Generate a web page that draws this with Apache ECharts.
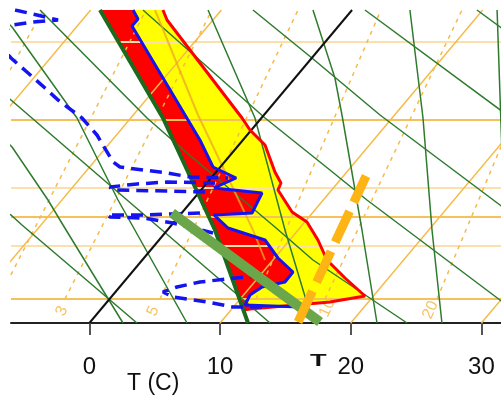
<!DOCTYPE html>
<html>
<head>
<meta charset="utf-8">
<script src="https://cdn.jsdelivr.net/npm/echarts@6/dist/echarts.min.js"></script>
<style>
html, body { margin: 0; padding: 0; background: #fff; }
#chart { width: 501px; height: 403px; }
</style>
</head>
<body>
<div id="chart"></div>
<script>
var chart = echarts.init(document.getElementById('chart'))

// x = temperature (C) at the bottom, y = height above the bottom isobar (plot units)
var tTicks = [0, 10, 20, 30]

var isobarLevels = [281, 203, 135, 106, 77, 24]
var isobarStrong = [false, true, false, true, false, true]

var isothermBottom = [-20, -10, 10, 20, 30]
var isothermTop = [0.1, 10.1, 30.1, 40.1, 50.1]
var zeroIsotherm = [[0, 0], [20.1, 313]]

var mixBottom = [-15.7, -6.95, -1.87, 5.40, 12.75, 18.03, 26.60]
var mixTop = [-3.55, 4.33, 9.38, 15.97, 22.31, 28.51, 35.9]
var mixLabelText = ['3', '5', '10', '20']
var mixLabelPos = [[-2.1, 12], [4.87, 12], [18.2, 15], [26.1, 13]]

var dryAdiabats = [
  [[-7.61, 118], [-6.0, 108], [-5.16, 98], [3.64, 0]],
  [[-7.61, 238], [-6.0, 223], [2.88, 123], [11.53, 26], [13.82, 0]],
  [[-3.78, 313], [4.41, 205], [7.47, 170], [14.20, 96], [17.11, 63], [24.31, 0]],
  [[4.10, 313], [13.44, 205], [18.41, 153], [21.24, 123], [31.42, 23], [33.72, 1]],
  [[12.52, 313], [17.03, 265], [22.24, 208], [31.42, 118], [33.72, 96]],
  [[21.09, 313], [33.72, 191]],
  [[29.66, 313], [33.72, 274]]
]

var moistAdiabats = [
  [[-6.84, 188], [-5.92, 176], [-3.17, 123], [-2.02, 98], [2.57, 0]],
  [[-6.84, 308], [-5.92, 296], [-0.95, 205], [2.19, 123], [7.47, 0]],
  [[9.08, 313], [12.67, 205], [14.97, 93], [17.11, 0]],
  [[17.11, 313], [18.79, 245], [19.33, 208], [20.86, 93], [22.01, 0]],
  [[24.53, 313], [25.53, 205], [26.22, 93], [26.98, 0]],
  [[31.2, 313], [31.6, 160]]
]

var parcelPath = [[0.81, 313], [5.63, 205], [9.61, 93], [12.14, 0]]
var redLeft = [[0.81, 313], [5.63, 205], [9.61, 93], [11.75, 13]]
var rightEdge = [[5.63, 313], [5.94, 303], [11.68, 205], [12.29, 193], [13.44, 178],
  [14.20, 151], [14.66, 140], [14.43, 133], [15.51, 111], [16.65, 101], [17.49, 83],
  [18.18, 63], [19.56, 45], [21.09, 27], [18.41, 21], [12.29, 14], [11.75, 13]]

var bluePath = [[3.34, 313], [3.72, 304], [3.26, 297], [8.46, 183], [9.46, 156],
  [11.23, 145], [9.54, 135], [13.21, 130], [12.45, 110], [9.54, 108], [10.61, 95],
  [13.44, 83], [14.43, 65], [15.58, 51], [14.97, 41], [13.21, 36], [12.29, 28],
  [11.91, 18], [16.12, 16]]

var dewSegments = [
  [[-5.69, 313], [-4.01, 308], [-2.40, 303], [-4.32, 301], [-5.92, 298], [-7.22, 283],
   [-6.0, 265], [-4.78, 251], [-3.40, 235], [-2.40, 223], [-0.57, 205], [0.58, 188],
   [1.81, 161], [2.34, 156], [5.94, 150], [7.70, 146], [10.61, 145]],
  [[9.61, 140], [5.94, 141], [3.64, 139], [1.58, 136], [1.73, 133], [5.94, 132], [8.85, 131]],
  [[8.46, 110], [4.10, 108], [1.35, 108], [1.58, 106], [4.10, 105], [6.40, 100], [9.46, 90]],
  [[13.21, 48], [11.91, 46], [8.46, 41], [6.70, 36], [5.63, 31], [6.40, 26], [9.00, 21],
   [11.00, 16], [13.44, 16]]
]

var orangeProfile = [[5.02, 313], [8.31, 208], [12.52, 93], [13.44, 63]]
var greenBar = [[6.32, 110], [17.65, 1]]
var orangeBar = [[15.97, 1], [21.17, 147]]

function line(points, color, width, type, z) {
  return {
    type: 'line', data: points, symbol: 'none', silent: true, clip: true, z: z,
    animation: false,
    lineStyle: { color: color, width: width, type: type || 'solid', cap: 'butt' }
  }
}

function area(points, color, z) {
  return {
    type: 'custom', coordinateSystem: 'cartesian2d', silent: true, z: z,
    animation: false, data: [[0, 0]],
    renderItem: function (params, api) {
      return {
        type: 'polygon',
        shape: { points: points.map(function (p) { return api.coord(p) }) },
        style: { fill: color }
      }
    }
  }
}

var series = []

series.push({
  type: 'scatter', z: 1, silent: true, animation: false, symbolSize: 1,
  itemStyle: { color: 'rgba(0,0,0,0)' },
  data: mixLabelPos.map(function (p, i) { return { value: p, name: mixLabelText[i] } }),
  label: { show: true, position: 'inside', formatter: '{b}', rotate: 65,
    color: '#f2b53c', fontSize: 16, fontFamily: 'Liberation Sans, Arial, sans-serif' }
})

var redPoly = redLeft.concat(rightEdge.slice().reverse())
var yellowPoly = bluePath.concat(rightEdge.slice(0, 15).reverse())
series.push(area(redPoly, '#ff0000', 2))
series.push(area(yellowPoly, '#ffff00', 2))

isobarLevels.forEach(function (y, i) {
  series.push(line([[-6, y], [31.5, y]], isobarStrong[i] ? '#f5c15a' : '#fbe0ae', 2, 'solid', 3))
})
isothermBottom.forEach(function (t, i) {
  series.push(line([[t, 0], [isothermTop[i], 313]], '#f5ba48', 1.5, 'solid', 3))
})
mixBottom.forEach(function (t, i) {
  series.push(line([[t, 24], [mixTop[i], 313]], '#f5ba48', 1.5, [4, 5], 3))
})
dryAdiabats.forEach(function (p) { series.push(line(p, '#2e7b2e', 1.5, 'solid', 3)) })
moistAdiabats.forEach(function (p) { series.push(line(p, '#2e7b2e', 1.5, 'solid', 3)) })

series.push(line(orangeProfile, 'rgba(235,165,40,0.75)', 2, 'solid', 4))
series.push(line(zeroIsotherm, '#111111', 2, 'solid', 4))

series.push(line(rightEdge, '#ff0000', 3, 'solid', 5))
series.push(line(bluePath, '#1414f0', 3, 'solid', 5))
series.push(line(parcelPath, '#1d6a1d', 4, 'solid', 5))
dewSegments.forEach(function (p) { series.push(line(p, '#1414f0', 3.5, [12, 7], 5)) })

series.push(line(greenBar, '#6ca64a', 10, 'solid', 6))
series.push(line(orangeBar, '#fdb414', 9, [34, 10], 6))

var option = {
  animation: false,
  grid: { left: 11, right: 0, top: 10, bottom: 80 },
  xAxis: {
    type: 'value', min: -6, max: 31.5,
    axisLine: { show: true, onZero: false, lineStyle: { color: '#222', width: 2 } },
    axisTick: { show: true, length: 12, customValues: tTicks, lineStyle: { color: '#555', width: 2 } },
    axisLabel: { customValues: tTicks, fontSize: 24, color: '#111', margin: 32,
      fontFamily: 'Liberation Sans, Arial, sans-serif' },
    splitLine: { show: false }
  },
  yAxis: { type: 'value', min: 0, max: 313, show: false, splitLine: { show: false } },
  graphic: [
    { type: 'text', left: 127, top: 372,
      style: { text: 'T (C)', fontSize: 23, fill: '#111', fontFamily: 'Liberation Sans, Arial, sans-serif' } },
    { type: 'text', x: 310, y: 353, scaleX: 1.6,
      style: { text: 'T', fontSize: 17, fontWeight: 'bold', fill: '#111', fontFamily: 'Liberation Sans, Arial, sans-serif' } }
  ],
  series: series
}
chart.setOption(option)
</script>
</body>
</html>
